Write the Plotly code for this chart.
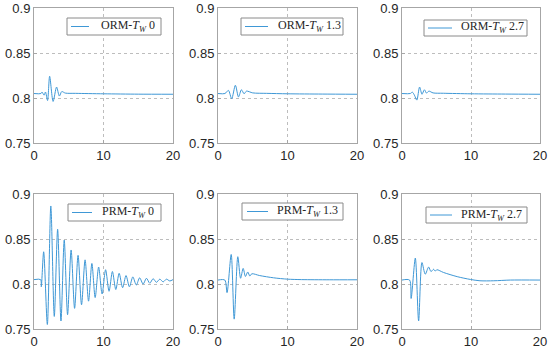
import plotly.graph_objects as go

# ---- data ----
x_ticks = [0, 10, 20]
y_ticks = [0.75, 0.8, 0.85, 0.9]
y_tick_labels = ["0.75", "0.8", "0.85", "0.9"]

names = ["ORM-<i>T</i><sub><i>W</i></sub> 0", "ORM-<i>T</i><sub><i>W</i></sub> 1.3", "ORM-<i>T</i><sub><i>W</i></sub> 2.7",
         "PRM-<i>T</i><sub><i>W</i></sub> 0", "PRM-<i>T</i><sub><i>W</i></sub> 1.3", "PRM-<i>T</i><sub><i>W</i></sub> 2.7"]

t_orm0 = [0, 1.0, 1.15, 1.45, 1.65, 1.95, 2.25, 2.75, 3.25, 3.65, 4.0, 4.5, 6, 10, 15, 20]
v_orm0 = [0.8053, 0.8053, 0.807, 0.8035, 0.807, 0.7975, 0.8245, 0.7965, 0.8125, 0.8025, 0.8075, 0.8058, 0.8055, 0.805, 0.8046, 0.8045]

t_orm13 = [0, 1.0, 1.5, 1.97, 2.5, 2.95, 3.37, 3.76, 4.1, 5.0, 7, 10, 15, 20]
v_orm13 = [0.8053, 0.8053, 0.8088, 0.7995, 0.8145, 0.8015, 0.8095, 0.805, 0.808, 0.806, 0.8055, 0.805, 0.8047, 0.8045]

t_orm27 = [0, 1.2, 1.5, 1.8, 2.15, 2.55, 2.9, 3.25, 3.55, 3.9, 4.5, 6, 10, 15, 20]
v_orm27 = [0.8053, 0.8053, 0.8068, 0.8035, 0.798, 0.8125, 0.8045, 0.8095, 0.8058, 0.808, 0.806, 0.8056, 0.805, 0.8047, 0.8045]

t_prm0 = [0, 0.95, 1.05, 1.39, 1.92, 2.42, 2.92, 3.4, 3.88, 4.35, 4.83, 5.34, 5.84, 6.34, 6.84, 7.35, 7.85,
          8.33, 8.8, 9.3, 9.8, 10.3, 10.8, 11.28, 11.77, 12.25, 12.75, 13.24, 13.73, 14.22, 14.72, 15.2,
          15.7, 16.18, 16.66, 17.14, 17.62, 18.1, 18.58, 19.06, 19.54, 20]
v_prm0 = [0.805, 0.805, 0.797, 0.836, 0.755, 0.887, 0.764, 0.861, 0.759, 0.849, 0.766, 0.838, 0.773, 0.832,
          0.777, 0.827, 0.781, 0.823, 0.785, 0.819, 0.789, 0.816, 0.792, 0.814, 0.794, 0.812, 0.796, 0.8095,
          0.797, 0.808, 0.799, 0.807, 0.800, 0.8065, 0.801, 0.806, 0.802, 0.8055, 0.8025, 0.8055, 0.8035, 0.805]

t_prm13 = [0, 0.98, 1.3, 1.9, 2.33, 2.85, 3.25, 3.62, 3.95, 4.28, 4.58, 4.87, 6, 8, 10, 12, 16, 20]
v_prm13 = [0.8045, 0.8045, 0.7905, 0.833, 0.761, 0.8305, 0.8065, 0.8175, 0.8085, 0.8135, 0.809, 0.8115,
           0.8095, 0.807, 0.8055, 0.805, 0.8048, 0.8048]

t_prm27 = [0, 1.1, 1.32, 1.93, 2.41, 2.89, 3.37, 3.86, 4.2, 4.58, 4.8, 5.06, 6, 8, 9.9, 11.3, 13.3, 15.7, 20]
v_prm27 = [0.8045, 0.8045, 0.784, 0.829, 0.759, 0.824, 0.811, 0.819, 0.814, 0.8165, 0.8145, 0.816, 0.813,
           0.8083, 0.8052, 0.8037, 0.8037, 0.8045, 0.8045]

series_t = [t_orm0, t_orm13, t_orm27, t_prm0, t_prm13, t_prm27]
series_v = [v_orm0, v_orm13, v_orm27, v_prm0, v_prm13, v_prm27]

# ---- layout geometry (pixels -> paper fractions) ----
W, H = 550, 349
x_domains = [[34 / W, 173 / W], [218 / W, 357 / W], [402 / W, 540 / W]]
y_domains = [[1 - 143.3 / H, 1 - 8.3 / H], [1 - 329 / H, 1 - 194.3 / H]]
# legend boxes: (left, top, right, bottom, sample_x0, sample_x1, text_x)
legend_boxes = [(67, 18, 161, 35, 71, 89, 99), (241, 18, 343, 35, 245, 268, 276),
                (424, 20, 527, 36, 428, 452, 459), (68, 204, 161, 221, 72, 92, 100),
                (242, 203, 343, 220, 247, 268, 275), (426, 207, 527, 223, 430, 452, 459)]

line_color = "#3f98d6"
axis_color = "#a6a6a6"
grid_color = "#bdbdbd"
tick_font = dict(family="Liberation Sans, Arial", size=13, color="#262626")
legend_font = dict(family="Liberation Serif, Times New Roman", size=12, color="#262626")

fig = go.Figure()
layout = dict(template="none", width=W, height=H, margin=dict(l=0, r=0, t=0, b=0, pad=0, autoexpand=False),
              plot_bgcolor="white", paper_bgcolor="white", showlegend=False)
shapes, annotations = [], []

for i in range(6):
    row, col = divmod(i, 3)
    n = "" if i == 0 else str(i + 1)
    fig.add_trace(go.Scatter(x=series_t[i], y=series_v[i], mode="lines", name=names[i],
                             line=dict(color=line_color, width=1, shape="spline", smoothing=0.8),
                             xaxis="x" + n, yaxis="y" + n))
    layout["xaxis" + n] = dict(domain=x_domains[col], anchor="y" + n, range=[0, 20],
                               tickvals=x_ticks, ticktext=[str(v) for v in x_ticks],
                               showgrid=True, gridcolor=grid_color, griddash="dot", gridwidth=1,
                               showline=True, linecolor=axis_color, linewidth=1, mirror=True,
                               ticks="inside", ticklen=3, tickcolor=axis_color, automargin=False,
                               tickfont=tick_font, zeroline=False, ticklabeloverflow="allow")
    layout["yaxis" + n] = dict(domain=y_domains[row], anchor="x" + n, range=[0.75, 0.9],
                               tickvals=y_ticks, ticktext=y_tick_labels,
                               showgrid=True, gridcolor=grid_color, griddash="dot", gridwidth=1,
                               showline=True, linecolor=axis_color, linewidth=1, mirror=True,
                               ticks="inside", ticklen=3, tickcolor=axis_color, automargin=False,
                               tickfont=tick_font, zeroline=False, ticklabeloverflow="allow")
    # legend box drawn as layout decoration
    l, t, r, b, s0, s1, tx = legend_boxes[i]
    yc = (t + b) / 2
    shapes.append(dict(type="rect", xref="paper", yref="paper", layer="above",
                       x0=l / W, x1=r / W, y0=1 - b / H, y1=1 - t / H,
                       fillcolor="white", line=dict(color="#8a8a8a", width=1)))
    shapes.append(dict(type="line", xref="paper", yref="paper", layer="above",
                       x0=s0 / W, x1=s1 / W, y0=1 - yc / H, y1=1 - yc / H,
                       line=dict(color=line_color, width=1)))
    annotations.append(dict(xref="paper", yref="paper", x=tx / W, y=1 - (yc - 0.5) / H,
                            xanchor="left", yanchor="middle", text=names[i], showarrow=False,
                            font=legend_font))

layout["shapes"] = shapes
layout["annotations"] = annotations
fig.update_layout(**layout)
fig.write_html("out.html", post_script="document.body.style.margin='0';",
               config={"displayModeBar": False})
